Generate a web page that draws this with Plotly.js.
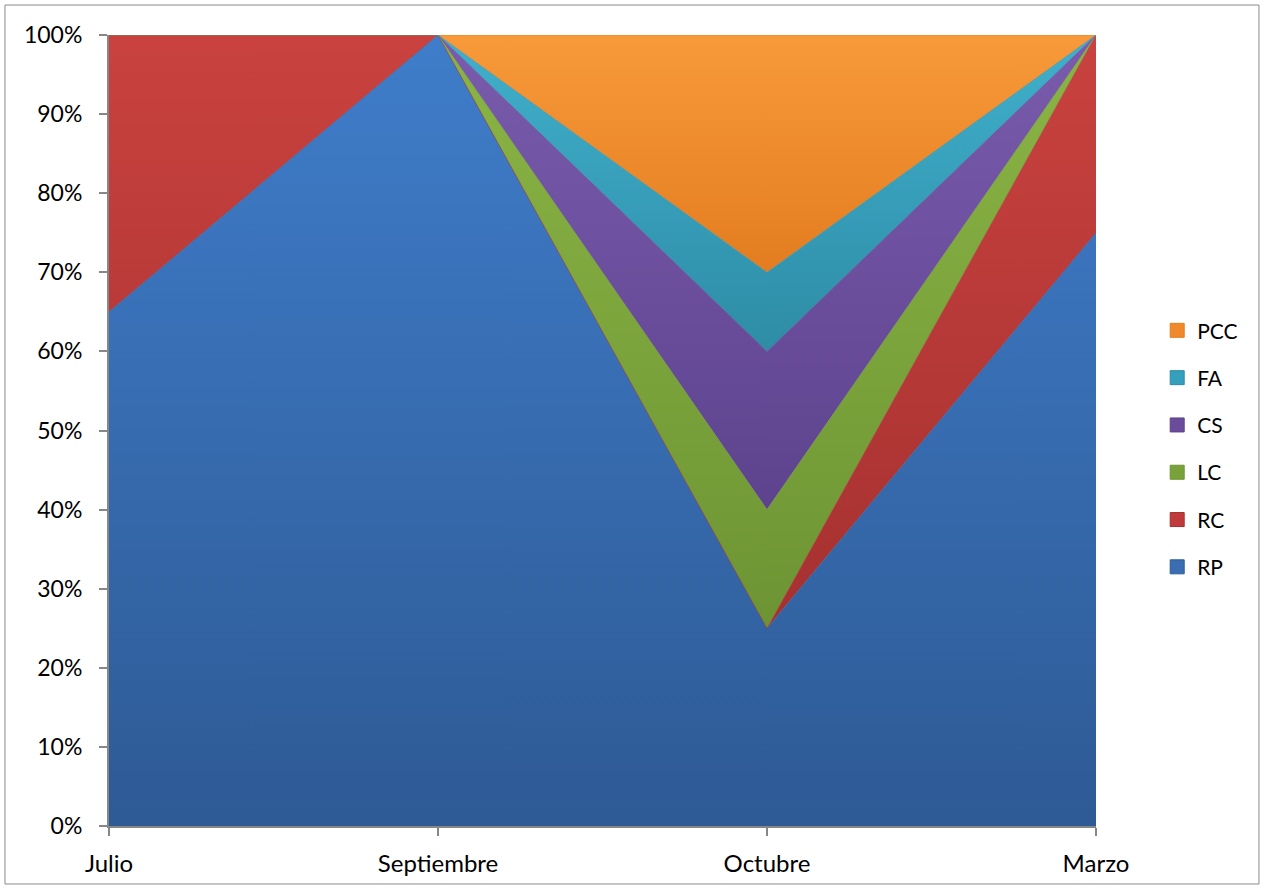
<!DOCTYPE html>
<html>
<head>
<meta charset="utf-8">
<script src="https://cdn.plot.ly/plotly-3.0.1.min.js"></script>
<style>
html,body{margin:0;padding:0;background:#fff;}
#chart{width:1265px;height:890px;}
</style>
</head>
<body>
<div id="chart"></div>
<script>
const categories = ["Julio", "Septiembre", "Octubre", "Marzo"];
const RP  = [65, 100, 25, 75];
const RC  = [35, 0, 0, 25];
const LC  = [0, 0, 15, 0];
const CS  = [0, 0, 20, 0];
const FA  = [0, 0, 10, 0];
const PCC = [0, 0, 30, 0];

const seriesNames = ["RP", "RC", "LC", "CS", "FA", "PCC"];
const seriesValues = [RP, RC, LC, CS, FA, PCC];
const colorsLight = ["#3f7dca", "#c9423f", "#8ab545", "#7a5bad", "#40b0cc", "#f89a3a"];
const colorsDark  = ["#2e5a95", "#a53130", "#6d9433", "#5d438e", "#2e8ca6", "#e37d1f"];
const colorsMid   = ["#3a6db2", "#bf3a3a", "#7aa23a", "#6a4c9a", "#35a0bb", "#f0892c"];

const areaTraces = seriesNames.map((n, i) => ({
  type: "scatter",
  mode: "lines",
  name: n,
  x: categories,
  y: seriesValues[i],
  stackgroup: "one",
  showlegend: false,
  line: {width: 0.6, color: colorsDark[i]},
  fillcolor: colorsMid[i],
  fillgradient: {
    type: "vertical",
    colorscale: [[0, colorsDark[i]], [1, colorsLight[i]]]
  },
  hoverinfo: "skip"
}));

const legendTraces = seriesNames.map((n, i) => ({
  type: "scatter",
  mode: "markers",
  name: n,
  x: [null],
  y: [null],
  legendgroup: n,
  legendrank: 100 - i,
  showlegend: true,
  marker: {symbol: "square", size: 14, color: colorsMid[i], line: {color: colorsDark[i], width: 1}},
  hoverinfo: "skip"
}));

const layout = {
  width: 1265,
  height: 890,
  margin: {l: 109, r: 169, t: 35, b: 64},
  paper_bgcolor: "#ffffff",
  plot_bgcolor: "#ffffff",
  font: {family: "Lato, 'Open Sans', sans-serif", size: 21, color: "#000"},
  showlegend: true,
  legend: {
    x: 1.062, xanchor: "left",
    y: 0.477, yanchor: "middle",
    traceorder: "grouped",
    tracegroupgap: 17,
    font: {size: 21},
    itemwidth: 30
  },
  xaxis: {
    type: "category",
    range: [0, 3],
    showgrid: false,
    zeroline: false,
    showline: true,
    linecolor: "#878787",
    linewidth: 2,
    ticks: "outside",
    ticklen: 8,
    tickcolor: "#878787",
    tickwidth: 2,
    tickfont: {size: 24},
    ticklabelstandoff: 7
  },
  yaxis: {
    range: [0, 100],
    dtick: 10,
    ticksuffix: "%",
    showgrid: false,
    zeroline: false,
    showline: true,
    linecolor: "#878787",
    linewidth: 2,
    ticks: "outside",
    ticklen: 8,
    tickcolor: "#878787",
    tickwidth: 2,
    tickfont: {size: 23},
    ticklabelstandoff: 12
  },
  shapes: [{
    type: "rect", xref: "paper", yref: "paper",
    x0: -0.1054, x1: 1.1651, y0: -0.0733, y1: 1.0379,
    line: {color: "#8a8a8a", width: 1},
    fillcolor: "rgba(0,0,0,0)",
    layer: "below"
  }]
};

Plotly.newPlot("chart", areaTraces.concat(legendTraces), layout, {displayModeBar: false, staticPlot: true});
</script>
</body>
</html>
